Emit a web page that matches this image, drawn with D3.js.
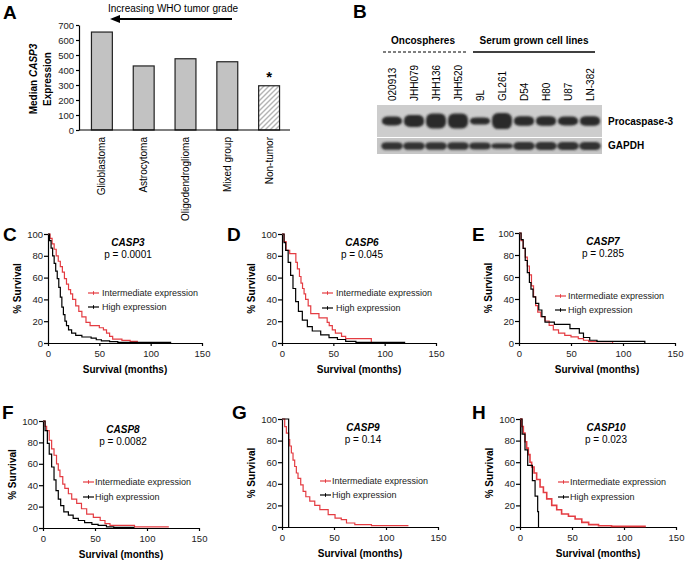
<!DOCTYPE html>
<html>
<head>
<meta charset="utf-8">
<script src="https://d3js.org/d3.v7.min.js"></script>
<style>
  body { margin: 0; background: #fff; }
  svg { font-family: "Liberation Sans", Arial, sans-serif; }
  .tick text { font-size: 9.5px; fill: #222; }
  .tick line, .domain { stroke: #000; stroke-width: 1.2; }
</style>
</head>
<body>
<script>
// ---- panel A: median CASP3 expression ----
const tumorTypes = ["Glioblastoma", "Astrocytoma", "Oligodendroglioma", "Mixed group", "Non-tumor"];
const medianCasp3 = [653, 427, 475, 455, 295];
const expressionTicks = [0, 100, 200, 300, 400, 500, 600, 700];

// ---- panel B: western blot ----
const blotLanes = ["020913", "JHH079", "JHH136", "JHH520", "9L", "GL261", "D54", "H80", "U87", "LN-382"];
const procaspase3Level = [0.55, 0.75, 0.95, 0.95, 0.45, 1.0, 0.6, 0.6, 0.55, 0.6];
const gapdhLevel = [0.9, 0.9, 0.9, 0.9, 0.8, 0.65, 0.95, 0.95, 0.95, 0.95];

// ---- panels C-H: Kaplan-Meier, [months, % survival] ----
const monthTicks = [0, 50, 100, 150];
const survivalTicks = [0, 20, 40, 60, 80, 100];
const genes = ["CASP3", "CASP6", "CASP7", "CASP8", "CASP9", "CASP10"];
const pValues = ["0.0001", "0.045", "0.285", "0.0082", "0.14", "0.023"];

const casp3Int = [[0,100],[2,96],[4,91],[6,86],[8,80],[10,75],[12,70],[14,65],[16,59],[18,54],[20,49],[22,45],[24,40],[27,34],[30,29],[33,24],[37,19],[41,16],[50,14],[54,12],[57,9],[60,6],[63,3.5],[72,2.5],[80,1.5],[87,0]];
const casp3High = [[0,100],[1.5,94],[3,87],[4.5,80],[6,73],[7.5,66],[9,59],[10.5,51],[12,42],[13.5,33],[15,26],[16.5,20],[18,16],[20,12],[23,9],[27,7],[33,5.5],[42,4.5],[47,3],[52,2],[60,1.2],[68,0.6],[120,0.6]];

const casp6Int = [[0,100],[2,93],[4,85],[7.5,82],[13.5,74],[15,68],[17,61],[18.5,55],[20,50],[21.5,45],[23,40],[25.5,34],[28,27],[36,23],[44,19],[46,16],[49,12],[52,9],[58,6],[62,4],[87,0]];
const casp6High = [[0,100],[2,92],[3.6,85],[6,74],[8.4,62],[10.7,50],[13.3,38],[16,29],[19.8,21],[24.7,15],[29.5,11],[37.7,7.5],[45.8,5],[54,3.2],[62,1.5],[72,0.6],[120,0.6]];

const casp7Int = [[0,100],[2,93],[4,86],[6,78],[8,70],[10,62],[12,52],[14,42],[16,34],[18,28],[21,24],[25,20],[29,16],[33,12],[38,9],[44,7],[50,5.5],[57,4],[62,2.5],[67,1.2],[90,0]];
const casp7High = [[0,100],[2,94],[4,86],[6,75],[8,64],[10,55],[11.5,49],[13.5,42],[16,36],[19,30],[22,24],[25,19],[34,17],[49,13],[58,9],[62,5],[68,2.5],[75,1.5],[121,0]];

const casp8Int = [[0,100],[2,95],[3.5,91],[6,82],[8.3,74],[10.6,68],[13,60],[14.7,54],[16.3,48],[19,41],[21,37],[24.4,32],[27.6,27],[32.4,23],[37,18],[42,13],[48.4,10],[55,7],[59.6,4],[64.4,2.5],[88,1],[121,1]];
const casp8High = [[0,100],[2,91],[4.2,79],[6,69],[8.3,57],[10.6,45],[12.5,35],[14.7,27],[17,21],[20,15],[24.4,12],[29,9],[34,7],[40,5],[47,3.4],[53,2.5],[61,1],[68,0.5],[88,0.5]];

const casp9Int = [[0,100],[2.6,93],[4.2,87],[6.4,81],[7.4,75],[9,68.5],[10.6,62],[12.2,56],[13.8,50],[15.4,45],[18,39],[20.3,33],[22.9,28],[26.7,24],[31.5,20],[36.4,16],[44.4,11.4],[51,8.3],[57,6.8],[62,3.7],[70,2.2],[86,1.2],[121,0.6]];
const casp9High = [[0,100],[6.4,0]];

const casp10Int = [[0,100],[1.6,93],[3.2,87],[4.8,79],[6.4,73],[8,67],[9.6,60],[11.2,55.5],[13.5,50],[16,44],[19.3,37],[22.5,32],[25.7,26],[30.5,20],[35.3,16],[40,12],[46.6,9.9],[53,7.4],[59.4,4.3],[66,2.2],[75.5,1.2],[88,0.6],[121,0.6]];
const casp10High = [[0,100],[2,86],[4.8,71.4],[7.4,57.1],[11.9,42.9],[14.5,28.6],[17,14.3],[17.8,0]];

const red = "#e43c42";

const svg = d3.select("body").append("svg")
  .attr("width", 688)
  .attr("height", 568);

const defs = svg.append("defs");
const hatch = defs.append("pattern")
  .attr("id", "hatch")
  .attr("patternUnits", "userSpaceOnUse")
  .attr("width", 5).attr("height", 5);
hatch.append("rect").attr("width", 5).attr("height", 5).attr("fill", "#fff");
hatch.append("path")
  .attr("d", "M-1,1 l2,-2 M0,5 l5,-5 M4,6 l2,-2")
  .attr("stroke", "#b4b4b4").attr("stroke-width", 1.4);
defs.append("filter").attr("id", "blur")
  .attr("x", "-30%").attr("y", "-60%").attr("width", "160%").attr("height", "220%")
  .append("feGaussianBlur").attr("stdDeviation", 1.2);

function panelLetter(letter, x, y) {
  svg.append("text").attr("x", x).attr("y", y)
    .attr("font-size", 19).attr("font-weight", "bold").text(letter);
}

// ================= Panel A =================
panelLetter("A", 3, 19);
{
  const x = d3.scaleBand().domain(tumorTypes).range([81, 290]).paddingInner(0.5).paddingOuter(0.25);
  const y = d3.scaleLinear().domain([0, 700]).range([130, 25]);

  svg.append("g")
    .selectAll("rect")
    .data(medianCasp3)
    .join("rect")
      .attr("x", (d, i) => x(tumorTypes[i]))
      .attr("width", x.bandwidth())
      .attr("y", d => y(d))
      .attr("height", d => y(0) - y(d))
      .attr("fill", (d, i) => i === tumorTypes.length - 1 ? "url(#hatch)" : "#c2c2c2")
      .attr("stroke", "#222")
      .attr("stroke-width", 1.2);

  svg.append("g")
    .attr("transform", "translate(79,0)")
    .call(d3.axisLeft(y).tickValues(expressionTicks).tickSize(3).tickPadding(2).tickSizeOuter(0))
    .call(g => g.selectAll(".tick text").attr("font-size", 10));

  svg.append("line").attr("x1", 79).attr("x2", 290).attr("y1", y(0)).attr("y2", y(0))
    .attr("stroke", "#000").attr("stroke-width", 1.2);

  svg.append("g").selectAll("text")
    .data(tumorTypes)
    .join("text")
      .attr("transform", d => `translate(${x(d) + x.bandwidth() / 2},137) rotate(-90)`)
      .attr("dy", "0.35em")
      .attr("text-anchor", "end")
      .attr("font-size", 10)
      .text(d => d);

  const last = tumorTypes[tumorTypes.length - 1];
  svg.append("text")
    .attr("x", x(last) + x.bandwidth() / 2)
    .attr("y", y(medianCasp3[medianCasp3.length - 1]) - 4)
    .attr("text-anchor", "middle")
    .attr("font-size", 15).attr("font-weight", "bold")
    .text("*");

  const yl = svg.append("text")
    .attr("transform", "translate(33,79) rotate(-90)")
    .attr("dy", "0.35em")
    .attr("text-anchor", "middle")
    .attr("font-size", 10).attr("font-weight", "bold");
  yl.append("tspan").text("Median ");
  yl.append("tspan").attr("font-style", "italic").text("CASP3");
  svg.append("text")
    .attr("transform", "translate(47,79) rotate(-90)")
    .attr("dy", "0.35em")
    .attr("text-anchor", "middle")
    .attr("font-size", 10).attr("font-weight", "bold")
    .text("Expression");

  svg.append("text").attr("x", 173).attr("y", 12)
    .attr("text-anchor", "middle").attr("font-size", 10)
    .text("Increasing WHO tumor grade");
  svg.append("line").attr("x1", 232).attr("x2", 118).attr("y1", 19).attr("y2", 19)
    .attr("stroke", "#000").attr("stroke-width", 1.8);
  svg.append("path").attr("d", "M110,19 L120,15 L120,23 Z").attr("fill", "#000");
}

// ================= Panel B =================
panelLetter("B", 353, 18);
{
  const x = d3.scaleBand().domain(blotLanes).range([381, 601]);
  const cx = d => x(d) + x.bandwidth() / 2;
  const hP = d3.scaleLinear().domain([0, 1]).range([0, 16]);
  const hG = d3.scaleLinear().domain([0, 1]).range([0, 8.5]);

  svg.append("text").attr("x", 423).attr("y", 44).attr("text-anchor", "middle")
    .attr("font-size", 10).attr("font-weight", "bold").text("Oncospheres");
  svg.append("text").attr("x", 534).attr("y", 44).attr("text-anchor", "middle")
    .attr("font-size", 10).attr("font-weight", "bold").text("Serum grown cell lines");
  svg.append("line").attr("x1", 383).attr("x2", 466).attr("y1", 52).attr("y2", 52)
    .attr("stroke", "#000").attr("stroke-width", 1.2).attr("stroke-dasharray", "3,2");
  svg.append("line").attr("x1", 473).attr("x2", 595).attr("y1", 52).attr("y2", 52)
    .attr("stroke", "#000").attr("stroke-width", 1.3);

  svg.append("g").selectAll("text")
    .data(blotLanes)
    .join("text")
      .attr("transform", d => `translate(${cx(d)},101) rotate(-90)`)
      .attr("dy", "0.35em")
      .attr("font-size", 10)
      .text(d => d);

  svg.append("rect").attr("x", 377).attr("y", 105).attr("width", 225).attr("height", 32).attr("fill", "#cdcdcd");
  svg.append("rect").attr("x", 377).attr("y", 138).attr("width", 225).attr("height", 16).attr("fill", "#c6c6c6");

  svg.append("g").attr("filter", "url(#blur)")
    .selectAll("rect")
    .data(procaspase3Level)
    .join("rect")
      .attr("x", (d, i) => cx(blotLanes[i]) - 10)
      .attr("width", 20)
      .attr("y", d => 121 - hP(d) / 2)
      .attr("height", d => hP(d))
      .attr("rx", 6).attr("ry", d => hP(d) / 2.5)
      .attr("fill", "#2a2a2a");

  svg.append("g").attr("filter", "url(#blur)")
    .selectAll("rect")
    .data(gapdhLevel)
    .join("rect")
      .attr("x", (d, i) => cx(blotLanes[i]) - 10.5)
      .attr("width", 21)
      .attr("y", d => 146 - hG(d) / 2)
      .attr("height", d => hG(d))
      .attr("rx", 5).attr("ry", d => hG(d) / 2.5)
      .attr("fill", "#303030");

  svg.append("text").attr("x", 608).attr("y", 125)
    .attr("font-size", 10).attr("font-weight", "bold").text("Procaspase-3");
  svg.append("text").attr("x", 608).attr("y", 149)
    .attr("font-size", 10).attr("font-weight", "bold").text("GAPDH");
}

// ================= Panels C-H =================
const kmLayout = [
  { letter: "C", lx: 3,   ly: 241, x0: 48,  x1: 202, yt: 234, yb: 343, tdx: 80, legLine: 40, legText: 54, legY: [293, 307] },
  { letter: "D", lx: 227, ly: 241, x0: 282, x1: 436, yt: 234, yb: 343, tdx: 80, legLine: 40, legText: 54, legY: [293, 308] },
  { letter: "E", lx: 472, ly: 241, x0: 519, x1: 675, yt: 233, yb: 343, tdx: 84, legLine: 36, legText: 49, legY: [296, 310] },
  { letter: "F", lx: 2,   ly: 419, x0: 43,  x1: 199, yt: 421, yb: 528, tdx: 80, legLine: 40, legText: 52, legY: [482, 497] },
  { letter: "G", lx: 232, ly: 419, x0: 282, x1: 438, yt: 419, yb: 527, tdx: 81, legLine: 38, legText: 50, legY: [481, 495] },
  { letter: "H", lx: 472, ly: 419, x0: 520, x1: 676, yt: 419, yb: 527, tdx: 86, legLine: 38, legText: 50, legY: [482, 497] }
];
const intermediateCurves = [casp3Int, casp6Int, casp7Int, casp8Int, casp9Int, casp10Int];
const highCurves = [casp3High, casp6High, casp7High, casp8High, casp9High, casp10High];

kmLayout.forEach((p, i) => {
  panelLetter(p.letter, p.lx, p.ly);
  const x = d3.scaleLinear().domain([0, 150]).range([p.x0, p.x1]);
  const y = d3.scaleLinear().domain([0, 100]).range([p.yb, p.yt]);
  const g = svg.append("g");

  g.append("g")
    .attr("transform", `translate(0,${p.yb})`)
    .call(d3.axisBottom(x).tickValues(monthTicks).tickSize(3).tickPadding(4).tickSizeOuter(0));
  g.append("g")
    .attr("transform", `translate(${p.x0},0)`)
    .call(d3.axisLeft(y).tickValues(survivalTicks).tickSize(4).tickPadding(1).tickSizeOuter(0));

  const line = d3.line().x(d => x(d[0])).y(d => y(d[1])).curve(d3.curveStepAfter);
  g.append("path").attr("d", line(intermediateCurves[i]))
    .attr("fill", "none").attr("stroke", red).attr("stroke-width", i === 5 ? 1.6 : 1.2);
  g.append("path").attr("d", line(highCurves[i]))
    .attr("fill", "none").attr("stroke", "#000").attr("stroke-width", 1.2);

  g.append("text")
    .attr("transform", `translate(${p.x0 - 31},${(p.yt + p.yb) / 2}) rotate(-90)`)
    .attr("dy", "0.35em").attr("text-anchor", "middle")
    .attr("font-size", 10).attr("font-weight", "bold")
    .text("% Survival");
  g.append("text")
    .attr("x", (p.x0 + p.x1) / 2).attr("y", p.yb + 30)
    .attr("text-anchor", "middle")
    .attr("font-size", 10).attr("font-weight", "bold")
    .text("Survival (months)");

  g.append("text")
    .attr("x", p.x0 + p.tdx).attr("y", p.yt + 12)
    .attr("text-anchor", "middle")
    .attr("font-size", 10).attr("font-weight", "bold").attr("font-style", "italic")
    .text(genes[i]);
  g.append("text")
    .attr("x", p.x0 + p.tdx).attr("y", p.yt + 23.5)
    .attr("text-anchor", "middle")
    .attr("font-size", 10)
    .text("p = " + pValues[i]);

  [["Intermediate expression", red], ["High expression", "#000"]].forEach(([label, color], k) => {
    const ly = p.legY[k];
    const lx = p.x0 + p.legLine;
    g.append("line").attr("x1", lx).attr("x2", lx + 11).attr("y1", ly).attr("y2", ly)
      .attr("stroke", color).attr("stroke-width", 1.2);
    g.append("line").attr("x1", lx + 5.5).attr("x2", lx + 5.5).attr("y1", ly - 1.8).attr("y2", ly + 1.8)
      .attr("stroke", color).attr("stroke-width", 1);
    g.append("text").attr("x", p.x0 + p.legText).attr("y", ly)
      .attr("dy", "0.35em").attr("font-size", 9).attr("fill", "#222")
      .text(label);
  });
});
</script>
</body>
</html>
